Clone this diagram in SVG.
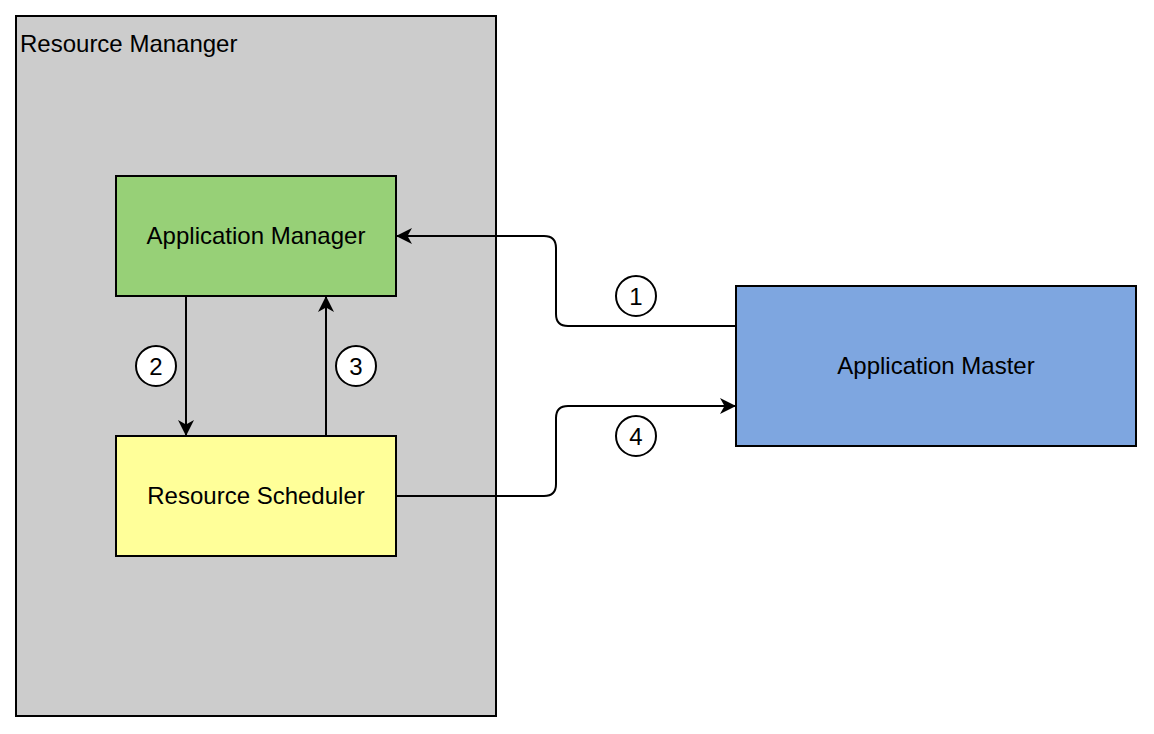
<svg xmlns="http://www.w3.org/2000/svg" width="1154" height="734" viewBox="0 0 1154 734">
<defs>
<style>
.box{stroke:#000;stroke-width:2}
.lbl{font-family:"Liberation Sans",Arial,sans-serif;font-size:24px;fill:#000}
.edge{fill:none;stroke:#000;stroke-width:2}
.num{fill:#fff;stroke:#000;stroke-width:2}
</style>
<marker id="arr" viewBox="0 0 16 16" refX="15" refY="8" markerWidth="16" markerHeight="16" markerUnits="userSpaceOnUse" orient="auto">
<path d="M0,0 L16,8 L0,16 L4.5,8 Z" fill="#000"/>
</marker>
</defs>
<rect width="1154" height="734" fill="#fff"/>
<g id="resource-manager">
<rect class="box" x="16" y="16" width="480" height="700" fill="#CCCCCC"/>
<text class="lbl" x="20" y="52">Resource Mananger</text>
</g>
<g id="application-manager">
<rect class="box" x="116" y="176" width="280" height="120" fill="#97D077"/>
<text class="lbl" x="256" y="244" text-anchor="middle">Application Manager</text>
</g>
<g id="resource-scheduler">
<rect class="box" x="116" y="436" width="280" height="120" fill="#FFFF99"/>
<text class="lbl" x="256" y="504" text-anchor="middle">Resource Scheduler</text>
</g>
<g id="application-master">
<rect class="box" x="736" y="286" width="400" height="160" fill="#7EA6E0"/>
<text class="lbl" x="936" y="374" text-anchor="middle">Application Master</text>
</g>
<g id="connectors">
<path class="edge" marker-end="url(#arr)" d="M736,326 H568 Q556,326 556,314 V248 Q556,236 544,236 H397"/>
<path class="edge" marker-end="url(#arr)" d="M186,296 V435"/>
<path class="edge" marker-end="url(#arr)" d="M326,436 V297"/>
<path class="edge" marker-end="url(#arr)" d="M396,496 H544 Q556,496 556,484 V418 Q556,406 568,406 H735"/>
</g>
<g id="labels">
<circle class="num" cx="636" cy="296" r="20"/>
<text class="lbl" x="636" y="304.5" text-anchor="middle">1</text>
<circle class="num" cx="156" cy="366" r="20"/>
<text class="lbl" x="156" y="374.5" text-anchor="middle">2</text>
<circle class="num" cx="356" cy="366" r="20"/>
<text class="lbl" x="356" y="374.5" text-anchor="middle">3</text>
<circle class="num" cx="636" cy="436" r="20"/>
<text class="lbl" x="636" y="444.5" text-anchor="middle">4</text>
</g>
</svg>
